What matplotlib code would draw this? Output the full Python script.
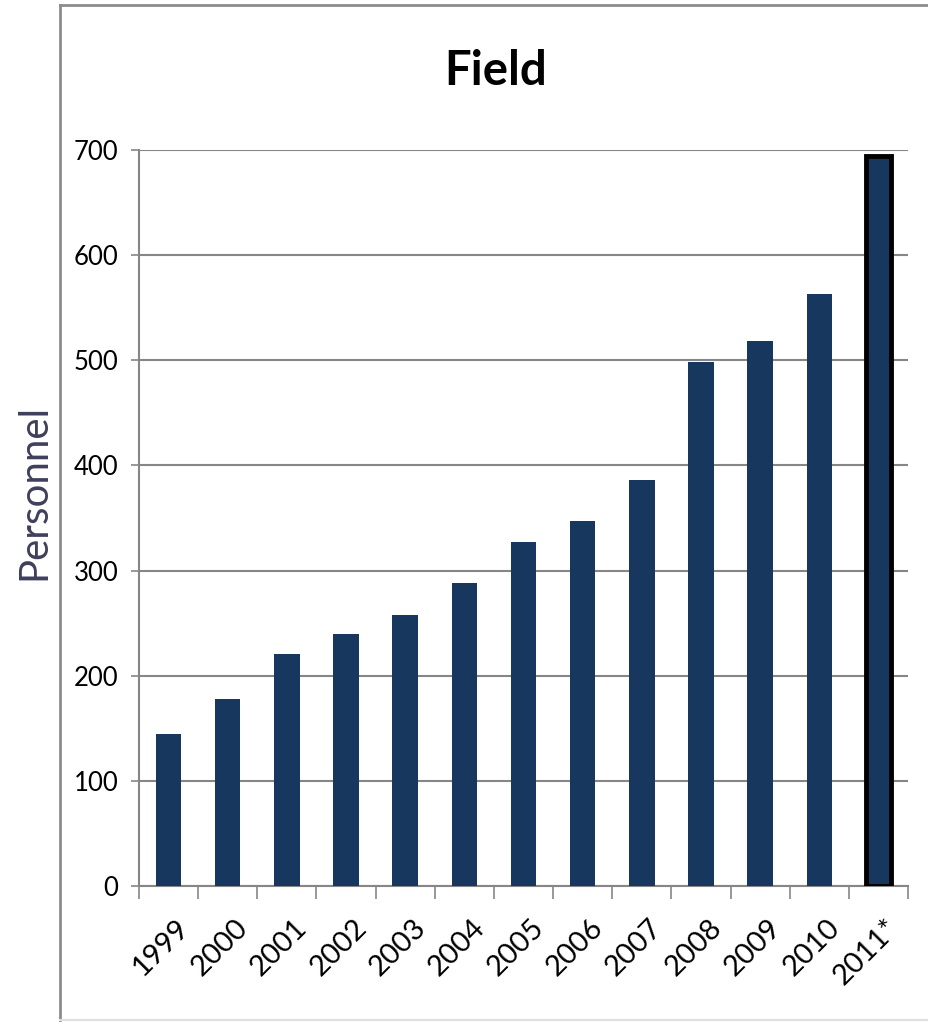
import matplotlib.pyplot as plt
from matplotlib.lines import Line2D

years = ["1999", "2000", "2001", "2002", "2003", "2004", "2005",
         "2006", "2007", "2008", "2009", "2010", "2011*"]
personnel = [145, 178, 221, 240, 258, 288, 327, 347, 386, 498, 518, 563, 694]
yticks = [0, 100, 200, 300, 400, 500, 600, 700]

bar_color = "#17375e"
grid_color = "#868686"
plt.rcParams["font.family"] = ["Lato", "DejaVu Sans"]

fig = plt.figure(figsize=(9.29, 10.22), dpi=100)
ax = fig.add_axes([0.1496, 0.1331, 0.8278, 0.7201])

x = list(range(len(years)))
bars = ax.bar(x, personnel, width=0.43, color=bar_color, zorder=3)
# last year is a projection, outlined in black
bars[-1].set_edgecolor("black")
bars[-1].set_linewidth(3.5)

ax.set_xlim(-0.5, len(years) - 0.5)
ax.set_ylim(0, 700)
ax.set_yticks(yticks)
ax.set_yticklabels([str(v) for v in yticks], fontsize=18.5)
ax.yaxis.grid(True, color=grid_color, linewidth=1.5, zorder=0)
ax.tick_params(axis="y", length=6, color=grid_color, width=1.2, pad=9)

# category ticks sit between the bars
ax.set_xticks([i - 0.5 for i in range(len(years) + 1)])
ax.set_xticklabels([])
ax.tick_params(axis="x", length=9, color=grid_color, width=1.2, direction="out")
for i, lab in enumerate(years):
    ax.text(i + 0.12, -27, lab, rotation=45, ha="right", va="top",
            rotation_mode="anchor", fontsize=21)

for side in ["top", "right"]:
    ax.spines[side].set_visible(False)
for side in ["left", "bottom"]:
    ax.spines[side].set_color(grid_color)
    ax.spines[side].set_linewidth(1.5)

ax.set_ylabel("Personnel", fontsize=29, color="#3f3f5c")
ax.yaxis.set_label_coords(-0.113, 0.535)
fig.text(0.534, 0.931, "Field", ha="center", va="center",
         fontsize=34, fontweight="bold")

# frame around the chart area
fc = "#8c8c8c"
fig.add_artist(Line2D([60 / 929, 60 / 929], [0.002, 1 - 5 / 1022], color=fc, lw=2))
fig.add_artist(Line2D([60 / 929, 1.0], [1 - 5 / 1022, 1 - 5 / 1022], color=fc, lw=2))
fig.add_artist(Line2D([60 / 929, 1.0], [0.002, 0.002], color="#e0e0e0", lw=1.5))

fig.savefig("out.png", dpi=100)
